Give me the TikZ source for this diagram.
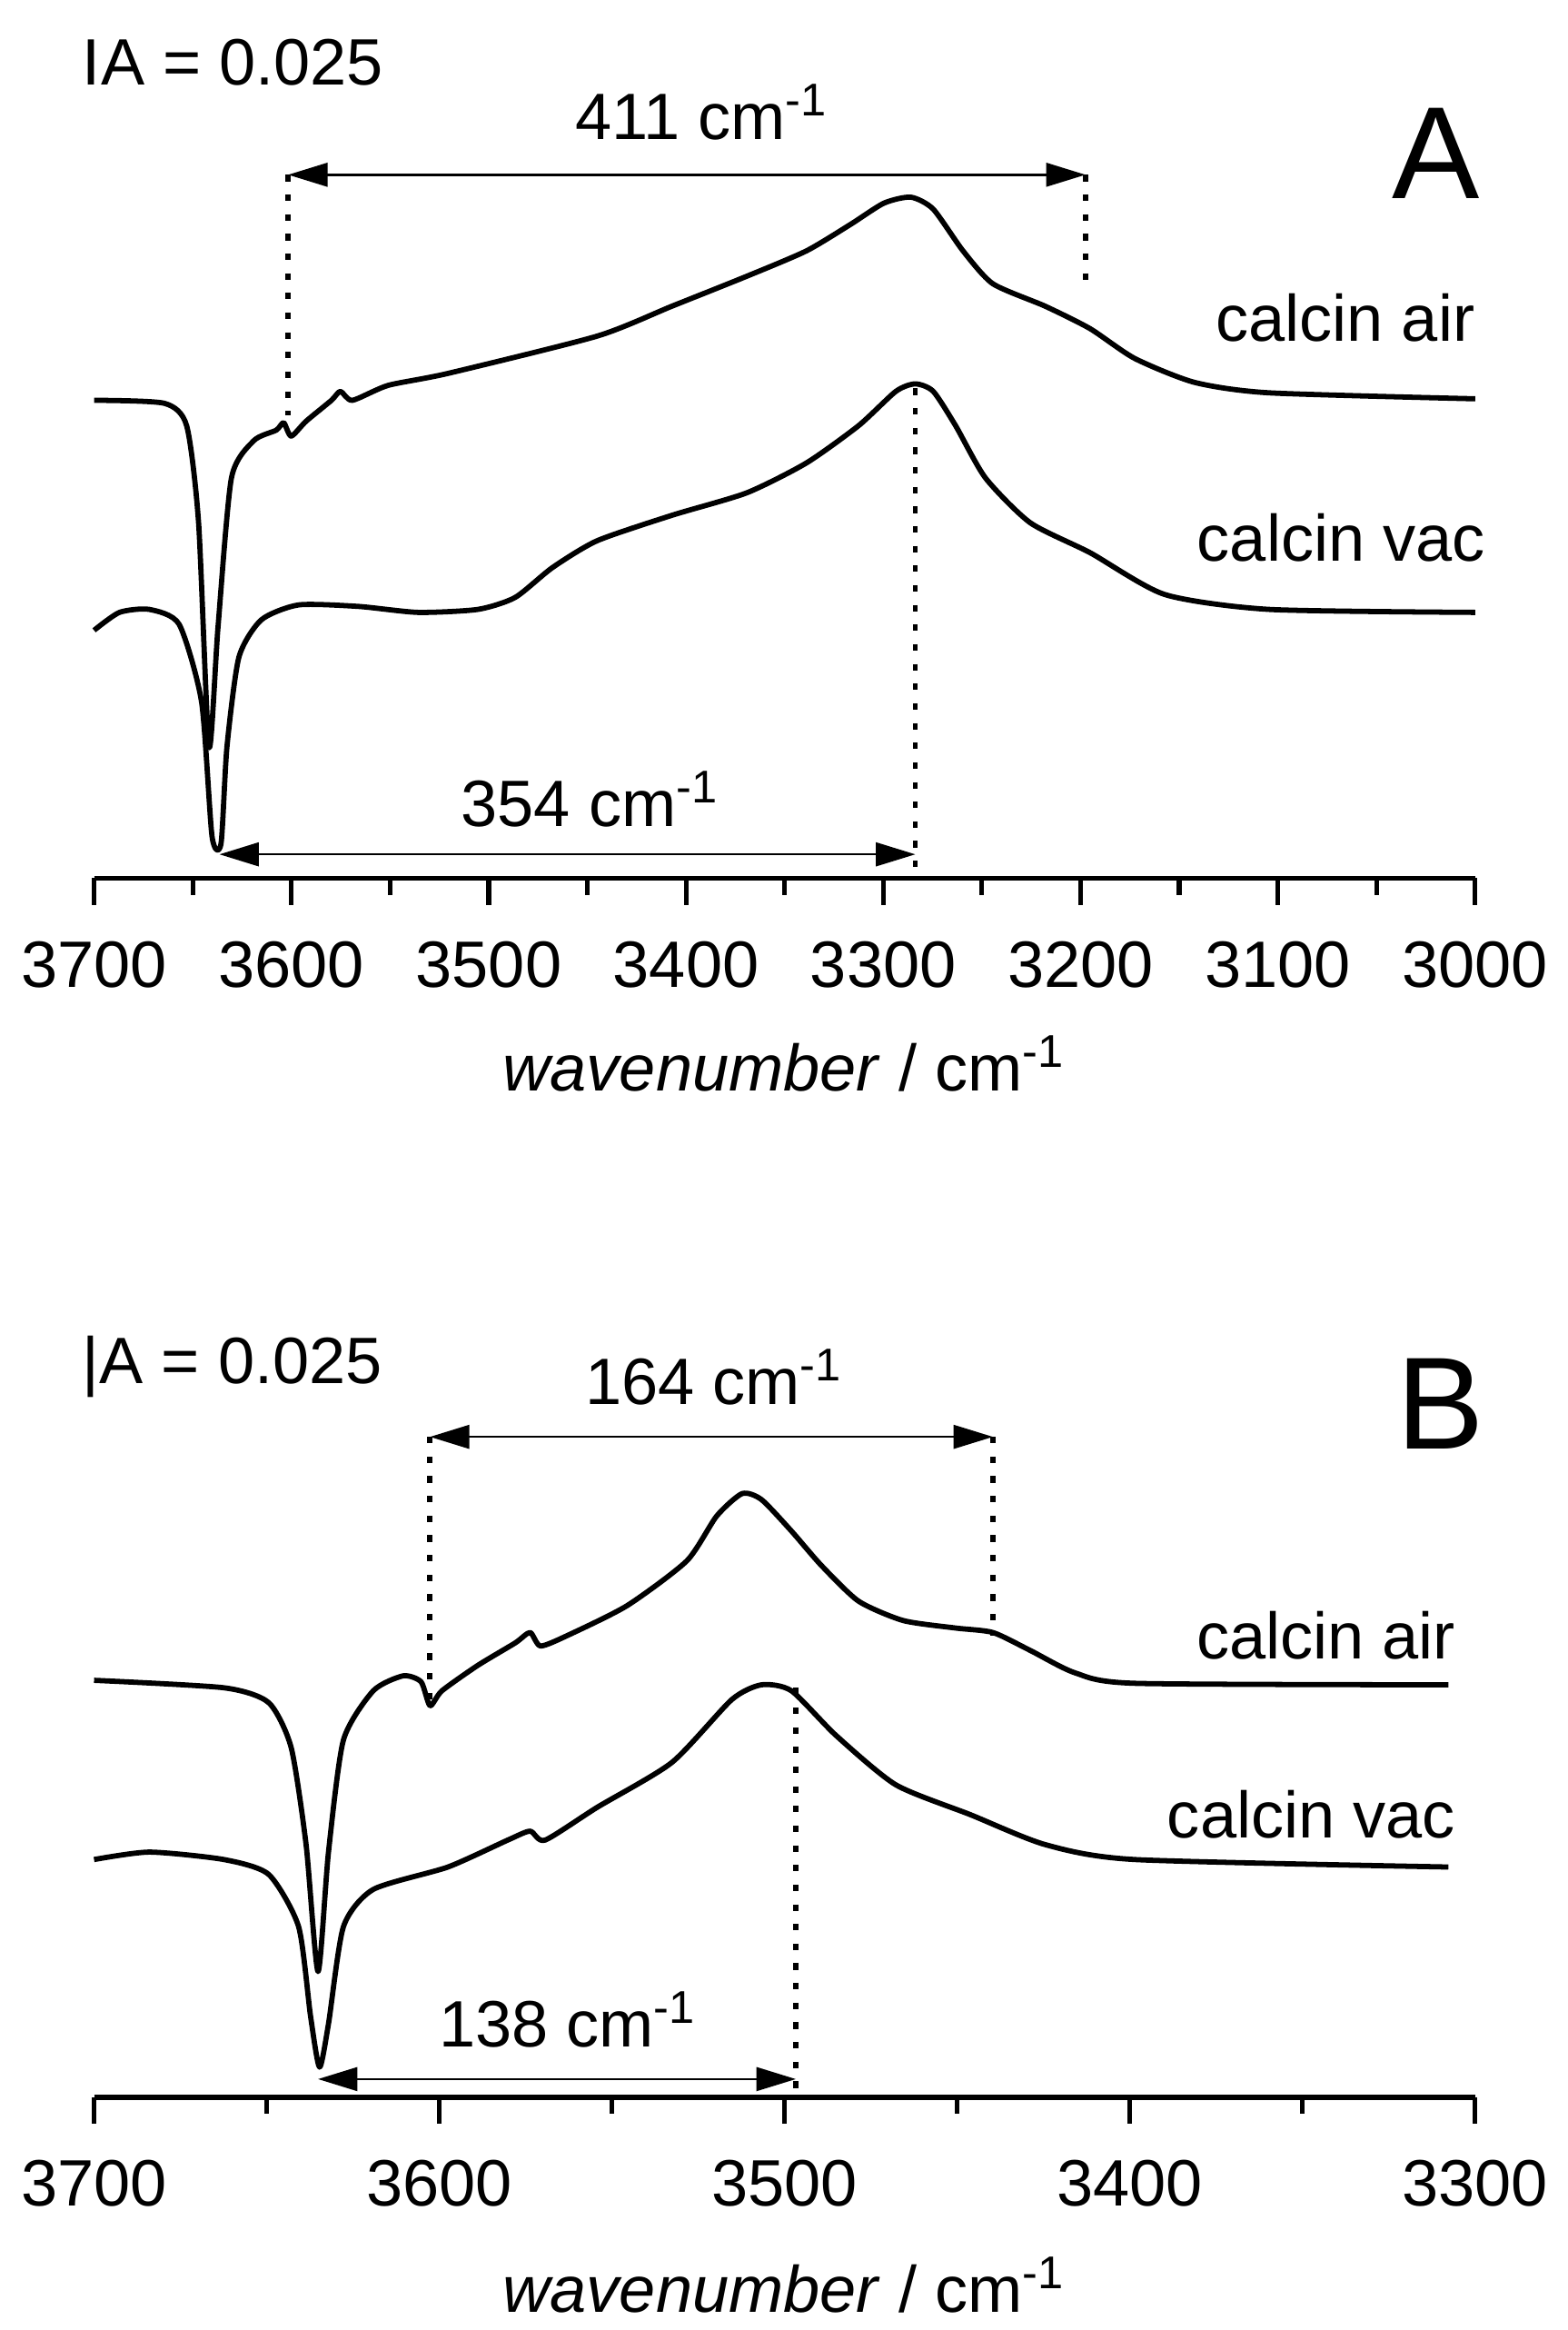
\documentclass[tikz,border=0pt]{standalone}
\usepackage{fontspec}
\setmainfont{Liberation Sans}
\usetikzlibrary{arrows.meta}
\begin{document}
\begin{tikzpicture}[x=0.02cm,y=-0.02cm,
  curve/.style={line width=2pt,line join=round},
  dim/.style={{Triangle[length=15pt,width=9pt]}-{Triangle[length=15pt,width=9pt]},line width=0.9pt},
  dots/.style={line width=2pt,dash pattern=on 2.5pt off 5pt},
  lab/.style={font=\fontsize{25}{28}\selectfont,inner sep=0pt},
  big/.style={font=\fontsize{50}{56}\selectfont,inner sep=0pt}]
\useasboundingbox (0,0) rectangle (1050,1560);
% ---------- Panel A ----------
\draw[line width=2pt] (63,588) -- (988,588);
\foreach \i in {0,...,7}{\draw[line width=1.8pt] (63+\i*132.14,588) -- ++(0,18);}
\foreach \i in {0,...,6}{\draw[line width=1.8pt] (129.07+\i*132.14,588) -- ++(0,11);}
\foreach \w [count=\i from 0] in {3700,3600,3500,3400,3300,3200,3100,3000}
  \node[lab] (ta\i) at (63+\i*132.14,646) {\w};
\node[lab] (xa) at (525,712) {\textit{wavenumber} / cm\textsuperscript{-1}};
\draw[curve] plot[smooth,tension=0.4] coordinates {(63,268)(110,270)(125,285)(133,350)(140,500)(146,420)(155,320)(170,295)(185,288)(190,283)(195,292)(205,282)(222,268)(228,262)(236,268)(260,258)(300,250)(400,225)(450,205)(500,185)(540,168)(570,150)(592,136)(610,132)(625,140)(645,168)(665,190)(700,205)(730,220)(760,240)(800,256)(850,263)(988,267)};
\draw[curve] plot[smooth,tension=0.4] coordinates {(63,422)(80,410)(100,408)(120,418)(135,470)(142,560)(148,565)(152,500)(160,440)(175,415)(200,405)(240,406)(280,410)(320,408)(345,400)(370,380)(400,362)(450,345)(500,330)(540,310)(575,285)(600,262)(613,257)(625,262)(640,285)(660,320)(690,350)(730,370)(780,398)(850,408)(988,410)};
\coordinate (a1t) at (193,117); \coordinate (a1b) at (193,278);
\coordinate (a2t) at (727,117); \coordinate (a2b) at (727,192);
\draw[dots] (a1t) -- (a1b); \draw[dots] (a2t) -- (a2b);
\draw[dim] (a1t) -- (a2t);
\node[lab] (l411) at (470,75) {411 cm\textsuperscript{-1}};
\coordinate (v1) at (147,572); \coordinate (v2) at (613,572); \coordinate (v2t) at (613,260);
\draw[dots] (v2t) -- (613,582);
\draw[dim] (v1) -- (v2);
\node[lab] (l354) at (395,535) {354 cm\textsuperscript{-1}};
\node[lab,anchor=west] (ia) at (55,42) {IA = 0.025};
\node[big] (A) at (962,103) {A};
\node[lab,anchor=east] (ca) at (988,213) {calcin air};
\node[lab,anchor=east] (cv) at (995,360) {calcin vac};
% ---------- Panel B ----------
\draw[line width=2pt] (63,1404) -- (988,1404);
\foreach \i in {0,...,4}{\draw[line width=1.8pt] (63+\i*231.25,1404) -- ++(0,18);}
\foreach \i in {0,...,3}{\draw[line width=1.8pt] (178.6+\i*231.25,1404) -- ++(0,11);}
\foreach \w [count=\i from 0] in {3700,3600,3500,3400,3300}
  \node[lab] (tb\i) at (63+\i*231.25,1462) {\w};
\node[lab] (xb) at (525,1530) {\textit{wavenumber} / cm\textsuperscript{-1}};
\draw[curve] plot[smooth,tension=0.4] coordinates {(63,1125)(150,1130)(180,1140)(195,1170)(205,1235)(213,1320)(220,1240)(230,1165)(250,1132)(270,1122)(282,1126)(288,1142)(296,1132)(320,1115)(345,1100)(355,1093)(362,1102)(380,1095)(420,1075)(460,1045)(480,1015)(497,1000)(510,1004)(530,1025)(550,1048)(575,1072)(605,1085)(640,1090)(665,1093)(690,1105)(720,1120)(760,1127)(970,1128)};
\draw[curve] plot[smooth,tension=0.4] coordinates {(63,1245)(100,1240)(150,1245)(180,1255)(200,1290)(208,1350)(214,1384)(220,1355)(230,1290)(250,1265)(300,1250)(340,1232)(355,1226)(365,1232)(400,1210)(450,1180)(490,1138)(510,1128)(530,1132)(560,1162)(600,1195)(650,1215)(700,1235)(760,1245)(970,1250)};
\coordinate (b1t) at (288,962); \coordinate (b1b) at (288,1145);
\coordinate (b2t) at (665,962); \coordinate (b2b) at (665,1095);
\draw[dots] (b1t) -- (b1b); \draw[dots] (b2t) -- (b2b);
\draw[dim] (b1t) -- (b2t);
\node[lab] (l164) at (478,922) {164 cm\textsuperscript{-1}};
\coordinate (w1) at (213,1392); \coordinate (w2) at (533,1392); \coordinate (w2t) at (533,1130);
\draw[dots] (w2t) -- (533,1400);
\draw[dim] (w1) -- (w2);
\node[lab] (l138) at (380,1352) {138 cm\textsuperscript{-1}};
\node[lab,anchor=west] (ib) at (55,915) {|A = 0.025};
\node[big] (B) at (965,940) {B};
\node[lab,anchor=east] (cb) at (975,1095) {calcin air};
\node[lab,anchor=east] (cw) at (975,1215) {calcin vac};
\end{tikzpicture}
\end{document}
